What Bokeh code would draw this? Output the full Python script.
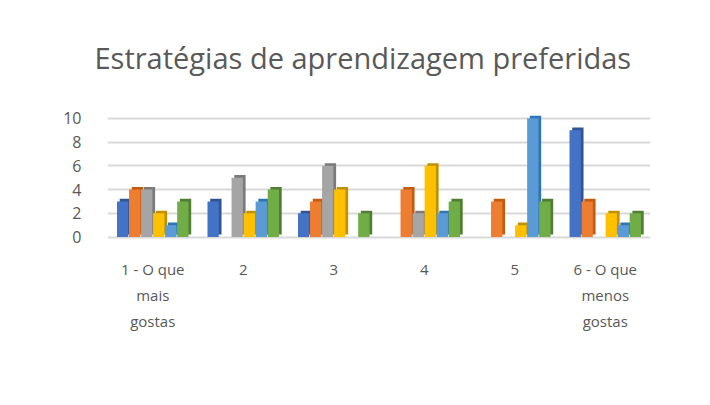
from bokeh.plotting import figure
from bokeh.models import ColumnDataSource, Legend, LegendItem, FixedTicker, Range1d, Title, LinearAxis
from bokeh.transform import dodge
from bokeh.embed import file_html
from bokeh.resources import INLINE

categories = ["1 - O que\nmais\ngostas", "2", "3", "4", "5", "6 - O que\nmenos\ngostas"]
series = ["TPC", "Vídeos", "trab pares", "PowerPoint", "Textos", "Plickers"]
tpc = [3, 3, 2, 0, 0, 9]
videos = [4, 0, 3, 4, 3, 3]
trab_pares = [4, 5, 6, 2, 0, 0]
powerpoint = [2, 2, 4, 6, 1, 2]
textos = [1, 3, 0, 2, 10, 1]
plickers = [3, 4, 2, 3, 3, 2]
y_ticks = [0, 2, 4, 6, 8, 10]

values = [tpc, videos, trab_pares, powerpoint, textos, plickers]
colors = ["#4472C4", "#ED7D31", "#A5A5A5", "#FFC000", "#5B9BD5", "#70AD47"]
dark = ["#2F5597", "#C55A11", "#7B7B7B", "#BF9000", "#2E75B6", "#507E32"]

FONT = "Open Sans"
TXT = "#595959"

p = figure(frame_width=543, frame_height=126, output_backend="svg", toolbar_location=None,
           x_range=Range1d(0, 6), y_range=Range1d(-0.2, 10.4),
           min_border_left=107, min_border_right=50, min_border_top=113, min_border_bottom=150)
p.title = None
title = Title(text="Estratégias de aprendizagem preferidas", align="left",
              text_font=FONT, text_font_size="29px", text_color=TXT,
              text_font_style="normal", vertical_align="top", offset=-13, standoff=69)
p.add_layout(title, "above")

p.outline_line_color = None
p.background_fill_color = "white"
p.border_fill_color = "white"

xs = [i + 0.5 for i in range(len(categories))]
bw = 0.125
offsets = [(-2.5 + k) * 0.133 for k in range(6)]
renderers = []
for k, name in enumerate(series):
    src = ColumnDataSource(dict(x=xs, top=values[k],
                                top3=[v + 0.22 for v in values[k]]))
    p.vbar(x=dodge("x", offsets[k] + 0.03, range=p.x_range), bottom=0.22, top="top3", width=bw,
           source=src, fill_color=dark[k], line_color=None)
    r = p.vbar(x=dodge("x", offsets[k], range=p.x_range), top="top", bottom=0, width=bw,
               source=src, fill_color=colors[k], line_color=None)
    renderers.append(r)


def style_axis(ax, size):
    ax.axis_line_color = None
    ax.major_tick_line_color = None
    ax.minor_tick_line_color = None
    ax.major_label_text_color = TXT
    ax.major_label_text_font = FONT
    ax.major_label_text_font_size = size


lines = [c.split("\n") for c in categories]
p.xaxis.ticker = FixedTicker(ticks=xs)
p.xaxis.major_label_overrides = {x: l[0] for x, l in zip(xs, lines)}
style_axis(p.xaxis[0], "15px")
p.xaxis.major_label_standoff = 13

for li, st in ((1, -3), (2, -3)):
    ax = LinearAxis(ticker=FixedTicker(ticks=xs),
                    major_label_overrides={x: (l[li] if len(l) > li else "") for x, l in zip(xs, lines)},
                    major_label_standoff=st)
    style_axis(ax, "15px")
    p.add_layout(ax, "below")

p.yaxis.ticker = FixedTicker(ticks=y_ticks)
style_axis(p.yaxis[0], "16px")
p.yaxis.major_label_standoff = 20
p.xgrid.grid_line_color = None
p.ygrid.ticker = FixedTicker(ticks=y_ticks)
p.ygrid.grid_line_color = "#D9D9D9"
p.ygrid.grid_line_width = 2

legend = Legend(items=[LegendItem(label=s, renderers=[r]) for s, r in zip(series, renderers)],
                orientation="horizontal", location="center",
                label_text_font=FONT, label_text_font_size="15px", label_text_color=TXT,
                glyph_width=9, glyph_height=9, spacing=16, label_standoff=4,
                border_line_color=None, background_fill_alpha=0, margin=22, padding=3)
p.add_layout(legend, "below")

html = file_html(p, INLINE)
html = html.replace("<head>", "<head><style>html,body{overflow:hidden}</style>", 1)
open("out.html", "w").write(html)
